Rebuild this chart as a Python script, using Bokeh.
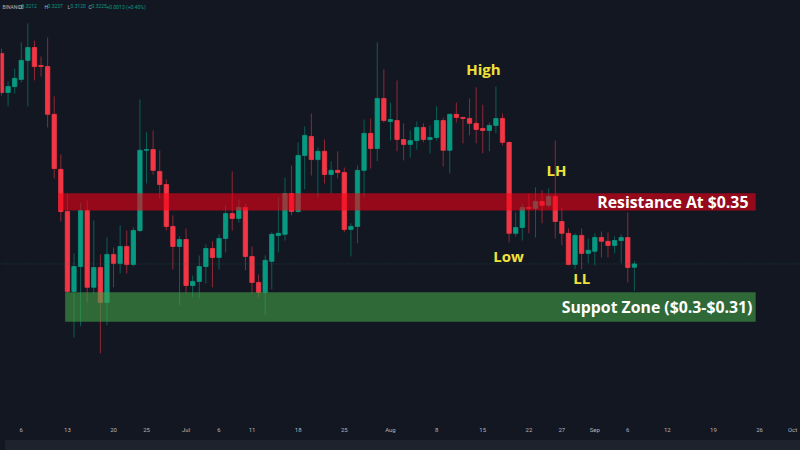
from bokeh.plotting import figure
from bokeh.models import ColumnDataSource, Label, Span, FixedTicker, Range1d, Div, GlobalInlineStyleSheet
from bokeh.layouts import column
from bokeh.embed import file_html
from bokeh.resources import INLINE

# ---- data (daily candles, Jun 3 .. Sep 7) ----
opens = [0.4044, 0.3892, 0.3915, 0.3943, 0.4017, 0.4067, 0.3997, 0.3993, 0.3807, 0.3593,
         0.3429, 0.3118, 0.3215, 0.3433, 0.3134, 0.3211, 0.3075, 0.3262, 0.3227, 0.3293,
         0.3223, 0.3355, 0.3667, 0.3670, 0.3585, 0.3534, 0.3371, 0.3293, 0.3320, 0.3141,
         0.3157, 0.3215, 0.3285, 0.3250, 0.3324, 0.3421, 0.3402, 0.3445, 0.3254, 0.3153,
         0.3114, 0.3235, 0.3336, 0.3340, 0.3499, 0.3429, 0.3647, 0.3721, 0.3631, 0.3663,
         0.3573, 0.3589, 0.3581, 0.3359, 0.3371, 0.3589, 0.3733, 0.3674, 0.3869, 0.3779,
         0.3783, 0.3709, 0.3690, 0.3705, 0.3756, 0.3709, 0.3717, 0.3783, 0.3667, 0.3807,
         0.3795, 0.3791, 0.3772, 0.3752, 0.3744, 0.3764, 0.3791, 0.3698, 0.3344, 0.3367,
         0.3445, 0.3441, 0.3468, 0.3453, 0.3488, 0.3390, 0.3344, 0.3223, 0.3336, 0.3266,
         0.3274, 0.3328, 0.3313, 0.3297, 0.3316, 0.3328, 0.3212]
closes = [0.3892, 0.3915, 0.3947, 0.4017, 0.4067, 0.3993, 0.3993, 0.3807, 0.3596, 0.3429,
          0.3118, 0.3215, 0.3433, 0.3134, 0.3211, 0.3075, 0.3262, 0.3227, 0.3293, 0.3223,
          0.3355, 0.3667, 0.3670, 0.3589, 0.3534, 0.3371, 0.3293, 0.3320, 0.3141, 0.3157,
          0.3215, 0.3285, 0.3250, 0.3324, 0.3421, 0.3402, 0.3445, 0.3254, 0.3153, 0.3114,
          0.3239, 0.3340, 0.3344, 0.3499, 0.3429, 0.3647, 0.3725, 0.3631, 0.3663, 0.3573,
          0.3589, 0.3581, 0.3359, 0.3371, 0.3589, 0.3733, 0.3674, 0.3869, 0.3783, 0.3787,
          0.3709, 0.3690, 0.3705, 0.3756, 0.3709, 0.3717, 0.3783, 0.3667, 0.3807, 0.3795,
          0.3791, 0.3772, 0.3748, 0.3744, 0.3764, 0.3791, 0.3698, 0.3344, 0.3367, 0.3445,
          0.3441, 0.3468, 0.3453, 0.3488, 0.3390, 0.3344, 0.3223, 0.3336, 0.3266, 0.3278,
          0.3328, 0.3313, 0.3297, 0.3316, 0.3328, 0.3211, 0.3225]
highs = [0.4063, 0.3935, 0.3985, 0.4087, 0.4161, 0.4094, 0.4032, 0.4106, 0.3877, 0.3651,
         0.3499, 0.3266, 0.3464, 0.3472, 0.3394, 0.3262, 0.3328, 0.3289, 0.3375, 0.3355,
         0.3367, 0.3865, 0.3737, 0.3744, 0.3667, 0.3554, 0.3414, 0.3332, 0.3363, 0.3180,
         0.3258, 0.3301, 0.3313, 0.3340, 0.3453, 0.3585, 0.3476, 0.3460, 0.3293, 0.3184,
         0.3258, 0.3348, 0.3484, 0.3561, 0.3608, 0.3698, 0.3760, 0.3810, 0.3678, 0.3709,
         0.3624, 0.3663, 0.3600, 0.3383, 0.3608, 0.3787, 0.3791, 0.4087, 0.3982, 0.3853,
         0.3939, 0.3772, 0.3744, 0.3779, 0.3772, 0.3764, 0.3838, 0.3795, 0.3810, 0.3853,
         0.3797, 0.3869, 0.3912, 0.3845, 0.3775, 0.3915, 0.3810, 0.3700, 0.3425, 0.3460,
         0.3499, 0.3523, 0.3511, 0.3519, 0.3705, 0.3445, 0.3363, 0.3344, 0.3363, 0.3324,
         0.3344, 0.3351, 0.3348, 0.3332, 0.3340, 0.3425, 0.3237]
lows = [0.3880, 0.3838, 0.3888, 0.3931, 0.3838, 0.3939, 0.3954, 0.3756, 0.3558, 0.3390,
        0.3110, 0.2939, 0.2982, 0.3075, 0.3110, 0.2877, 0.2986, 0.3134, 0.3188, 0.3188,
        0.3215, 0.3348, 0.3538, 0.3573, 0.3480, 0.3355, 0.3204, 0.3064, 0.3110, 0.3095,
        0.3091, 0.3149, 0.3134, 0.3204, 0.3270, 0.3355, 0.3386, 0.3200, 0.3110, 0.3095,
        0.3025, 0.3126, 0.3270, 0.3316, 0.3414, 0.3425, 0.3515, 0.3569, 0.3484, 0.3538,
        0.3499, 0.3558, 0.3348, 0.3254, 0.3305, 0.3484, 0.3596, 0.3624, 0.3775, 0.3705,
        0.3663, 0.3628, 0.3639, 0.3670, 0.3698, 0.3655, 0.3705, 0.3604, 0.3577, 0.3775,
        0.3694, 0.3725, 0.3694, 0.3655, 0.3663, 0.3733, 0.3686, 0.3309, 0.3332, 0.3316,
        0.3344, 0.3328, 0.3383, 0.3445, 0.3324, 0.3297, 0.3219, 0.3204, 0.3204, 0.3227,
        0.3219, 0.3250, 0.3250, 0.3266, 0.3227, 0.3153, 0.3120]

# tick positions (day index from Jun 3) and their labels
tick_pos = [3, 10, 17, 22, 28, 33, 38, 45, 52, 59, 66, 73, 80, 85, 90, 95, 101, 108, 115, 120]
tick_labels = ["6", "13", "20", "25", "Jul", "6", "11", "18", "25", "Aug",
               "8", "15", "22", "27", "Sep", "6", "12", "19", "26", "Oct"]

resistance_zone = (0.3433, 0.3500)
support_zone = (0.3000, 0.3115)
zone_end_day = 114.4
resistance_start_day = 8.65
support_start_day = 9.65

header_values = ["0.3212", "0.3237", "0.3120", "0.3225"]
header_change = "+0.0013 (+0.40%)"

# ---- build ----
BG = "#131722"
GREEN = "#089981"
RED = "#f23645"
YELLOW = "#f2e13a"
X0, X1 = -0.15, 121.2
Y0, Y1 = 0.26274, 0.425

day = list(range(len(opens)))
colors = [GREEN if c >= o else RED for o, c in zip(opens, closes)]
src = ColumnDataSource(dict(
    day=day, open=opens, close=closes, high=highs, low=lows,
    top=[max(o, c) for o, c in zip(opens, closes)],
    bottom=[min(o, c) for o, c in zip(opens, closes)],
    color=colors))

p = figure(width=800, height=435, output_backend="svg", toolbar_location=None,
           x_range=Range1d(X0, X1), y_range=Range1d(Y0, Y1),
           y_axis_location=None, min_border_left=0, min_border_right=0,
           min_border_top=0, min_border_bottom=12)
p.background_fill_color = BG
p.border_fill_color = BG
p.outline_line_color = None
p.xgrid.visible = False
p.ygrid.visible = False

p.xaxis.ticker = FixedTicker(ticks=tick_pos)
p.xaxis.major_label_overrides = {t: l for t, l in zip(tick_pos, tick_labels)}
p.xaxis.axis_line_color = None
p.xaxis.major_tick_line_color = None
p.xaxis.minor_tick_line_color = None
p.xaxis.major_label_text_color = "#b2b5be"
p.xaxis.major_label_text_font = "Roboto"
p.xaxis.major_label_text_font_size = "6px"
p.xaxis.major_label_standoff = 2

# current price line
p.add_layout(Span(location=closes[-1], dimension="width", line_color="#1f6b60",
                  line_alpha=0.5, line_dash="1 2", line_width=1))

p.segment(x0="day", y0="high", x1="day", y1="low", source=src,
          line_color="color", line_alpha=0.55, line_width=1)
p.vbar(x="day", top="top", bottom="bottom", width=0.66, source=src,
       fill_color="color", line_color="color", line_width=0.8)

p.quad(left=[resistance_start_day], right=[zone_end_day],
       bottom=[resistance_zone[0]], top=[resistance_zone[1]],
       fill_color="#f50014", fill_alpha=0.58, line_color=None)
p.quad(left=[support_start_day], right=[zone_end_day],
       bottom=[support_zone[0]], top=[support_zone[1]],
       fill_color="#43a047", fill_alpha=0.6, line_color=None)

def lab(x, y, text, color, align="center", size="15px"):
    p.add_layout(Label(x=x, y=y, text=text, text_color=color, text_align=align,
                       text_baseline="middle", text_font="Open Sans",
                       text_font_style="bold", text_font_size=size))

lab(73.1, 0.3982, "High", YELLOW)
lab(84.2, 0.3592, "LH", YELLOW)
lab(76.9, 0.3254, "Low", YELLOW)
lab(88.0, 0.3172, "LL", YELLOW)
lab(113.3, 0.3467, "Resistance At $0.35", "#ffffff", align="right", size="15.8px")
lab(113.9, 0.3058, "Suppot Zone ($0.3-$0.31)", "#ffffff", align="right", size="15.8px")

# header (tiny TradingView legend), positioned in screen pixels along the top
def px_to_x(px):
    return X0 + px * (X1 - X0) / 800.0

def hdr(px, text, color):
    p.add_layout(Label(x=px_to_x(px), y=Y1, y_offset=-3, text=text,
                       text_color=color, text_font="Roboto", text_font_size="5px",
                       text_baseline="top", text_align="left"))

hdr(2, "BINANCE", "#b2b5be")
for (xo, letter), val, xv in zip([(18, "O"), (44, "H"), (67, "L"), (88, "C")],
                                 header_values, [21, 47, 70, 91]):
    hdr(xo, letter, "#b2b5be")
    hdr(xv, val, GREEN)
hdr(106, header_change, GREEN)

strip = Div(width=800, height=15, styles={"background-color": "#1e222d"})
layout = column(p, strip, spacing=0,
                stylesheets=[GlobalInlineStyleSheet(
                    css="html,body{margin:0;padding:0;background:#131722;overflow:hidden;}")])

open("out.html", "w").write(file_html(layout, INLINE))
